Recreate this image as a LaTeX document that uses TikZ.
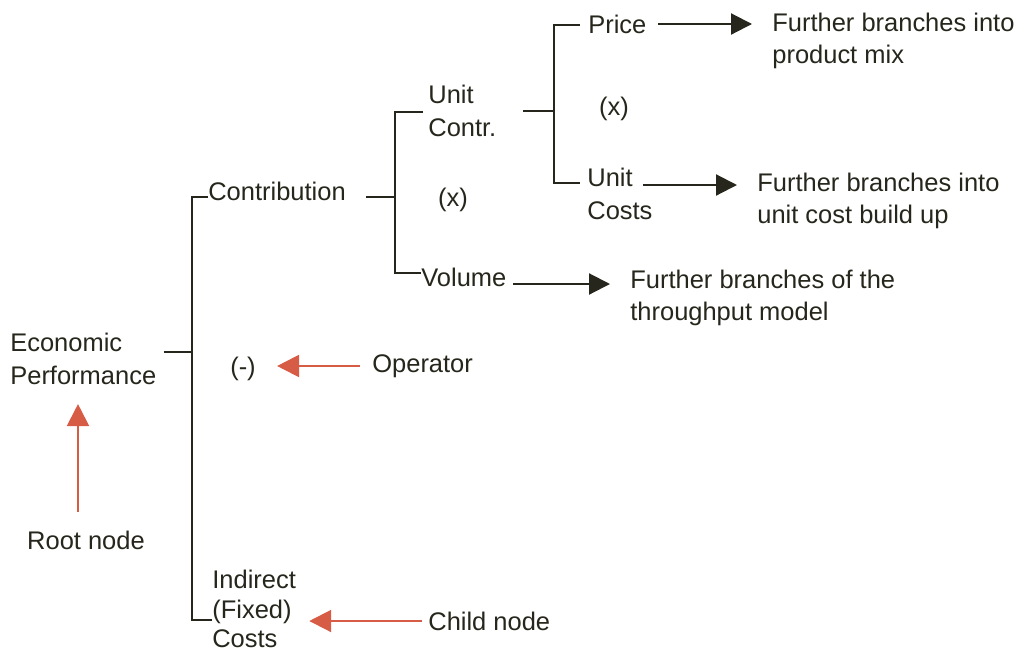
\documentclass[tikz,border=0pt]{standalone}
\usepackage{fontspec}
\setmainfont{Liberation Sans}
\usetikzlibrary{arrows.meta}
\definecolor{inkc}{RGB}{38,38,28}
\definecolor{redc}{RGB}{215,92,70}
\tikzset{
    lbl/.style = {anchor = west, inner sep = 0pt, align = left, text = inkc, font = \fontsize{14.5}{18.6}\selectfont},
    opnode/.style = {inner sep = 0pt, text = inkc, font = \fontsize{14.5}{18.6}\selectfont},
    brk/.style = {draw = inkc, line width = 1.2pt},
    blkarrow/.style = {draw = inkc, line width = 1.2pt, -{Triangle[length = 0.42cm, width = 0.42cm]}},
    redarrow/.style = {draw = redc, line width = 1.2pt, -{Triangle[length = 0.44cm, width = 0.44cm]}}
}
\begin{document}
\begin{tikzpicture}[x = 0.02cm, y = -0.02cm]
    \useasboundingbox (0,0) rectangle (1027,656);
    \node[lbl] (root) at (10,359) {Economic\\Performance};
    \node[lbl] (contr) at (208,191) {Contribution};
    \node[lbl] (unitc) at (428,111) {Unit\\Contr.};
    \node[lbl] (vol) at (421,277) {Volume};
    \node[lbl] (price) at (588,24) {Price};
    \node[lbl] (ucost) at (587,194) {Unit\\Costs};
    \node[lbl, font = \fontsize{14.5}{17}\selectfont] (ind) at (212,609) {Indirect\\(Fixed)\\Costs};
    \node[lbl] (further1) at (772,41) {Further branches into\\product mix};
    \node[lbl] (further2) at (757,201) {Further branches into\\unit cost build up};
    \node[lbl] (further3) at (630,298) {Further branches of the\\throughput model};
    \node[opnode] (opx1) at (453,200) {(x)};
    \node[opnode] (opx2) at (614,109) {(x)};
    \node[opnode] (opm) at (243,369) {(-)};
    \node[lbl] (oplbl) at (372,366) {Operator};
    \node[opnode] (rootlbl) at (86,540) {Root node};
    \node[lbl] (childlbl) at (428,621) {Child node};
    \coordinate (rb) at (192,352);
    \coordinate (rt) at (192,197);
    \coordinate (rd) at (192,620);
    \coordinate (cb) at (395,197);
    \coordinate (ct) at (395,112);
    \coordinate (cd) at (395,273);
    \coordinate (ub) at (554,111);
    \coordinate (ut) at (554,25);
    \coordinate (ud) at (554,183);
    \coordinate (uc1) at (643,185);
    \coordinate (vl) at (513,284);
    \coordinate (rnt) at (78,512);
    \begin{scope}[style = brk]
        \draw (root.east |- rb) ++(7,0) -- (rb);
        \draw (contr.west |- rt) -- (rt) -- (rd) -- (ind.west |- rd);
        \draw (contr.east |- cb) ++(20,0) -- (cb);
        \draw[shorten <= 0.1cm] (unitc.west |- ct) -- (ct) -- (cd) -- (vol.west |- cd);
        \draw (unitc.east |- ub) ++(26,0) -- (ub);
        \draw[shorten <= 0.16cm, shorten >= 0.14cm] (price.west |- ut) -- (ut) -- (ud) -- (ucost.west |- ud);
    \end{scope}
    \draw[blkarrow, shorten <= 0.22cm, shorten >= 0.4cm] (price.east) -- (further1.west |- price.east);
    \draw[blkarrow, shorten >= 0.4cm] (uc1) -- (further2.west |- uc1);
    \draw[blkarrow, shorten >= 0.4cm] (vl) -- (further3.west |- vl);
    \draw[redarrow, shorten <= 0.24cm, shorten >= 0.42cm] (oplbl.west) -- (opm.east |- oplbl.west);
    \draw[redarrow, shorten >= 0.38cm] (rnt) -- (rnt |- root.south);
    \draw[redarrow, shorten <= 0.12cm, shorten >= 0.26cm] (childlbl.west) -- (ind.east |- childlbl.west);
\end{tikzpicture}
\end{document}
